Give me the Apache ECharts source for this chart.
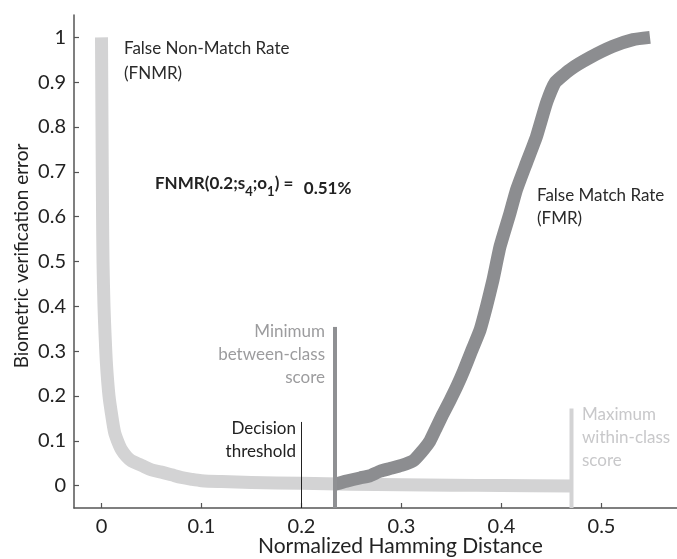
<!DOCTYPE html>
<html><head><meta charset="utf-8">
<script src="https://cdn.jsdelivr.net/npm/echarts@6/dist/echarts.min.js"></script>
<style>html,body{margin:0;padding:0;background:#fff}#c{width:677px;height:559px}</style>
</head><body><div id="c"></div>
<script>
// FNMR curve (x = normalized Hamming distance, y = error)
const fnmrX = [0,0.0005,0.001,0.0015,0.0025,0.0035,0.005,0.0075,0.01,0.013,0.016,0.02,0.025,0.03,0.04,0.05,0.06,0.07,0.08,0.09,0.1,0.12,0.15,0.2,0.25,0.3,0.35,0.4,0.47];
const fnmrY = [1.0,0.8,0.62,0.5,0.4,0.34,0.27,0.2,0.16,0.12,0.1,0.08,0.065,0.055,0.045,0.035,0.03,0.024,0.018,0.014,0.011,0.009,0.007,0.005,0.003,0.002,0.001,0.0,-0.001];
// FMR curve
const fmrX = [0.2335,0.245,0.2585,0.2685,0.2785,0.2885,0.3,0.3115,0.32,0.3285,0.335,0.3415,0.3485,0.3555,0.362,0.37,0.3785,0.385,0.3915,0.3985,0.4085,0.415,0.425,0.435,0.445,0.4535,0.4685,0.4885,0.5115,0.5315,0.5485];
const fmrY = [0.003,0.01,0.017,0.022,0.032,0.038,0.045,0.055,0.075,0.1,0.13,0.16,0.19,0.222,0.255,0.3,0.347,0.40,0.459,0.533,0.608,0.66,0.72,0.779,0.854,0.899,0.928,0.955,0.98,0.995,1.0];
// marker lines: [x, top y]
const decisionLine = [0.2, 0.142];
const minBetweenLine = [0.2335, 0.354];
const maxWithinLine = [0.47, 0.172];
const xTicks = [0,0.1,0.2,0.3,0.4,0.5];
const yTicks = [0,0.1,0.2,0.3,0.4,0.5,0.6,0.7,0.8,0.9,1];
const xLabel = 'Normalized Hamming Distance';
const yLabel = 'Biometric verification error';

const FONT = 'Lato';
const zip = (a,b)=>a.map((v,i)=>[v,b[i]]);
const vline = (p)=>[[p[0],-0.05],[p[0],p[1]]];

const chart = echarts.init(document.getElementById('c'));
chart.setOption({
  animation:false,
  textStyle:{fontFamily:FONT},
  grid:{left:74,top:15,right:0,bottom:51,containLabel:false},
  xAxis:{type:'value',min:-0.0275,max:0.5755,
    axisLine:{show:true,onZero:false,lineStyle:{color:'#555',width:1.5}},
    axisTick:{show:true,inside:true,length:5,customValues:xTicks,lineStyle:{color:'#555',width:1.2}},
    axisLabel:{customValues:xTicks,margin:9,fontSize:20,color:'#222',fontFamily:FONT,formatter:v=>String(+v.toFixed(2))},
    splitLine:{show:false}},
  yAxis:{type:'value',min:-0.05,max:1.05,
    axisLine:{show:true,onZero:false,lineStyle:{color:'#555',width:1.5}},
    axisTick:{show:true,inside:true,length:5,customValues:yTicks,lineStyle:{color:'#555',width:1.2}},
    axisLabel:{customValues:yTicks,margin:8,fontSize:20,color:'#222',fontFamily:FONT,formatter:v=>String(+v.toFixed(2))},
    splitLine:{show:false}},
  series:[
    {type:'line',data:zip(fnmrX,fnmrY),symbol:'none',smooth:0.3,z:2,lineStyle:{color:'#d3d3d4',width:13,cap:'butt',join:'round'}},
    {type:'line',data:vline(maxWithinLine),symbol:'none',z:3,lineStyle:{color:'#d3d3d4',width:4,cap:'butt'}},
    {type:'line',data:zip(fmrX,fmrY),symbol:'none',smooth:0.15,z:4,lineStyle:{color:'#8c8d90',width:13,cap:'butt',join:'round'}},
    {type:'line',data:vline(minBetweenLine),symbol:'none',z:5,lineStyle:{color:'#8f9093',width:4,cap:'butt'}},
    {type:'line',data:vline(decisionLine),symbol:'none',z:6,lineStyle:{color:'#222',width:1,cap:'butt'}}
  ],
  graphic:[
    {type:'text',left:124,top:36,style:{text:'False Non-Match Rate\n(FNMR)',font:'17px '+FONT,fill:'#2a2a2a',lineHeight:25}},
    {type:'text',left:537,top:184,style:{text:'False Match Rate\n(FMR)',font:'17px '+FONT,fill:'#2a2a2a',lineHeight:23}},
    {type:'text',left:155,top:175,style:{text:'{b|FNMR(0.2;s}{s|4}{b|;o}{s|1}{b|) = } {v|0.51%}',
      rich:{b:{font:'bold 17px '+FONT,fill:'#222',verticalAlign:'top'},s:{font:'bold 13px '+FONT,fill:'#222',padding:[10,0,0,0]},v:{font:'bold 17px '+FONT,fill:'#222',padding:[5,0,0,3]}}}},
    {type:'text',x:325,y:320,style:{text:'Minimum\nbetween-class\nscore',font:'17px '+FONT,fill:'#9c9c9e',lineHeight:23,align:'right',verticalAlign:'top'}},
    {type:'text',x:296,y:417,style:{text:'Decision\nthreshold',font:'17px '+FONT,fill:'#222',lineHeight:23,align:'right',verticalAlign:'top'}},
    {type:'text',x:582,y:403,style:{text:'Maximum\nwithin-class\nscore',font:'17px '+FONT,fill:'#c8c8ca',lineHeight:23,verticalAlign:'top'}},
    {type:'text',x:258,y:536,style:{text:xLabel,font:'21px '+FONT,fill:'#222',verticalAlign:'top'}},
    {type:'text',x:22,y:256,rotation:Math.PI/2,style:{text:yLabel,font:'19px '+FONT,fill:'#222',align:'center',verticalAlign:'middle'}}
  ]
});
</script></body></html>
